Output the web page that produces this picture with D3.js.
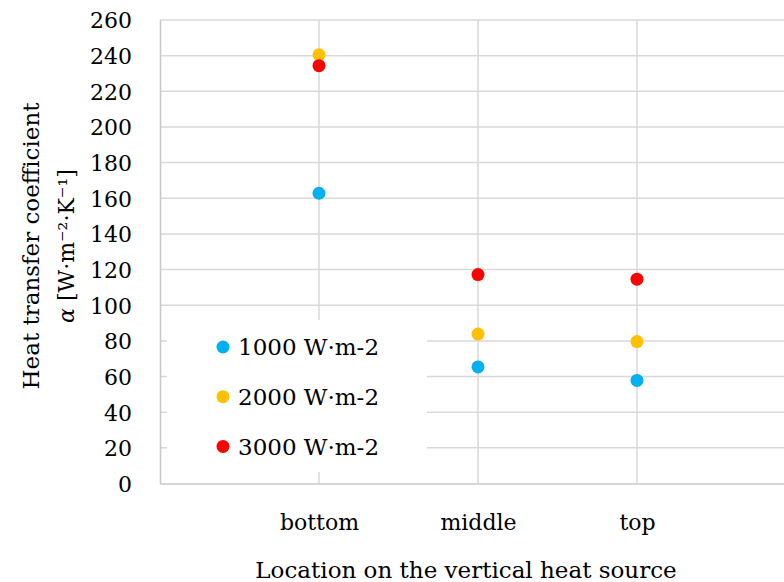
<!DOCTYPE html>
<html>
<head>
<meta charset="utf-8">
<script src="https://cdn.jsdelivr.net/npm/d3@7"></script>
<style>
  html, body { margin: 0; padding: 0; background: #fff; }
  svg { display: block; }
  text { font-family: "DejaVu Serif", "Liberation Serif", serif; fill: #000; }
</style>
</head>
<body>
<svg id="chart" width="784" height="582"></svg>
<script>
// Sensor locations along the heater
const locations = ["bottom", "middle", "top"];

// Heat transfer coefficient α [W·m⁻²·K⁻¹] per heat flux
const flux1000 = [162.8, 65.4, 57.8];
const flux2000 = [240.5, 83.8, 79.6];
const flux3000 = [234.4, 117.2, 114.6];

const seriesNames = ["1000 W·m-2", "2000 W·m-2", "3000 W·m-2"];
const seriesColors = ["#00B0F0", "#FFC000", "#FF0000"];

const yTicks = [0, 20, 40, 60, 80, 100, 120, 140, 160, 180, 200, 220, 240, 260];

const series = [flux1000, flux2000, flux3000].map((vals, i) => ({
  name: seriesNames[i],
  color: seriesColors[i],
  values: vals.map((v, j) => ({ loc: locations[j], v }))
}));

const svg = d3.select("#chart");

const plot = { left: 160, right: 796, top: 20, bottom: 483.5 };

const x = d3.scalePoint()
  .domain(locations)
  .range([plot.left, plot.right])
  .padding(1);

const y = d3.scaleLinear()
  .domain([0, 260])
  .range([plot.bottom, plot.top]);

const gridColor = "#d9d9d9";

// Horizontal gridlines
svg.append("g")
  .selectAll("line")
  .data(yTicks.filter(t => t > 0))
  .join("line")
  .attr("x1", plot.left).attr("x2", plot.right)
  .attr("y1", d => y(d)).attr("y2", d => y(d))
  .attr("stroke", gridColor).attr("stroke-width", 1.5);

// Vertical gridlines at each location
svg.append("g")
  .selectAll("line")
  .data(locations)
  .join("line")
  .attr("x1", d => x(d)).attr("x2", d => x(d))
  .attr("y1", plot.top).attr("y2", plot.bottom)
  .attr("stroke", gridColor).attr("stroke-width", 1.5);

// Y axis
const yAxis = svg.append("g")
  .attr("transform", `translate(${plot.left},0)`)
  .call(d3.axisLeft(y).tickValues(yTicks).tickSize(0).tickPadding(28).tickFormat(d3.format("d")));
yAxis.select(".domain").attr("stroke", "#c8c8c8").attr("stroke-width", 1.5);
yAxis.selectAll("text")
  .attr("font-size", 22)
  .attr("font-family", "DejaVu Serif")
  .attr("dy", "0.36em");

// X axis
const xAxis = svg.append("g")
  .attr("transform", `translate(0,${plot.bottom})`)
  .call(d3.axisBottom(x).tickSize(0).tickPadding(33));
xAxis.select(".domain").attr("stroke", "#c8c8c8").attr("stroke-width", 1.5);
xAxis.selectAll("text")
  .attr("font-size", 22)
  .attr("font-family", "DejaVu Serif")
  .attr("dy", "0.6em");

// Legend box (white fill hides gridlines behind it)
const legend = svg.append("g");
legend.append("rect")
  .attr("x", 167).attr("y", 320)
  .attr("width", 260).attr("height", 152)
  .attr("fill", "#fff");

const legendItems = legend.selectAll("g.item")
  .data(series)
  .join("g")
  .attr("class", "item")
  .attr("transform", (d, i) => `translate(223,${347 + i * 49.7})`);
legendItems.append("circle")
  .attr("r", 6.5)
  .attr("fill", d => d.color);
legendItems.append("text")
  .attr("x", 15)
  .attr("dy", "0.36em")
  .attr("font-size", 23)
  .text(d => d.name);

// Data points
svg.append("g")
  .selectAll("g")
  .data(series)
  .join("g")
  .attr("fill", d => d.color)
  .selectAll("circle")
  .data(d => d.values)
  .join("circle")
  .attr("cx", d => x(d.loc))
  .attr("cy", d => y(d.v))
  .attr("r", 6.5);

// Axis titles
const yTitle = svg.append("text")
  .attr("transform", "translate(39,246) rotate(-90)")
  .attr("text-anchor", "middle")
  .attr("font-size", 23);
yTitle.append("tspan").attr("x", 0).attr("y", 0).text("Heat transfer coefficient");
const unitLine = yTitle.append("tspan").attr("x", 0).attr("y", 35).attr("font-size", 22);
unitLine.append("tspan").attr("font-style", "italic").text("α");
unitLine.append("tspan").text(" [W·m⁻²·K⁻¹]");

svg.append("text")
  .attr("x", 466)
  .attr("y", 578)
  .attr("text-anchor", "middle")
  .attr("font-size", 23)
  .text("Location on the vertical heat source");
</script>
</body>
</html>
